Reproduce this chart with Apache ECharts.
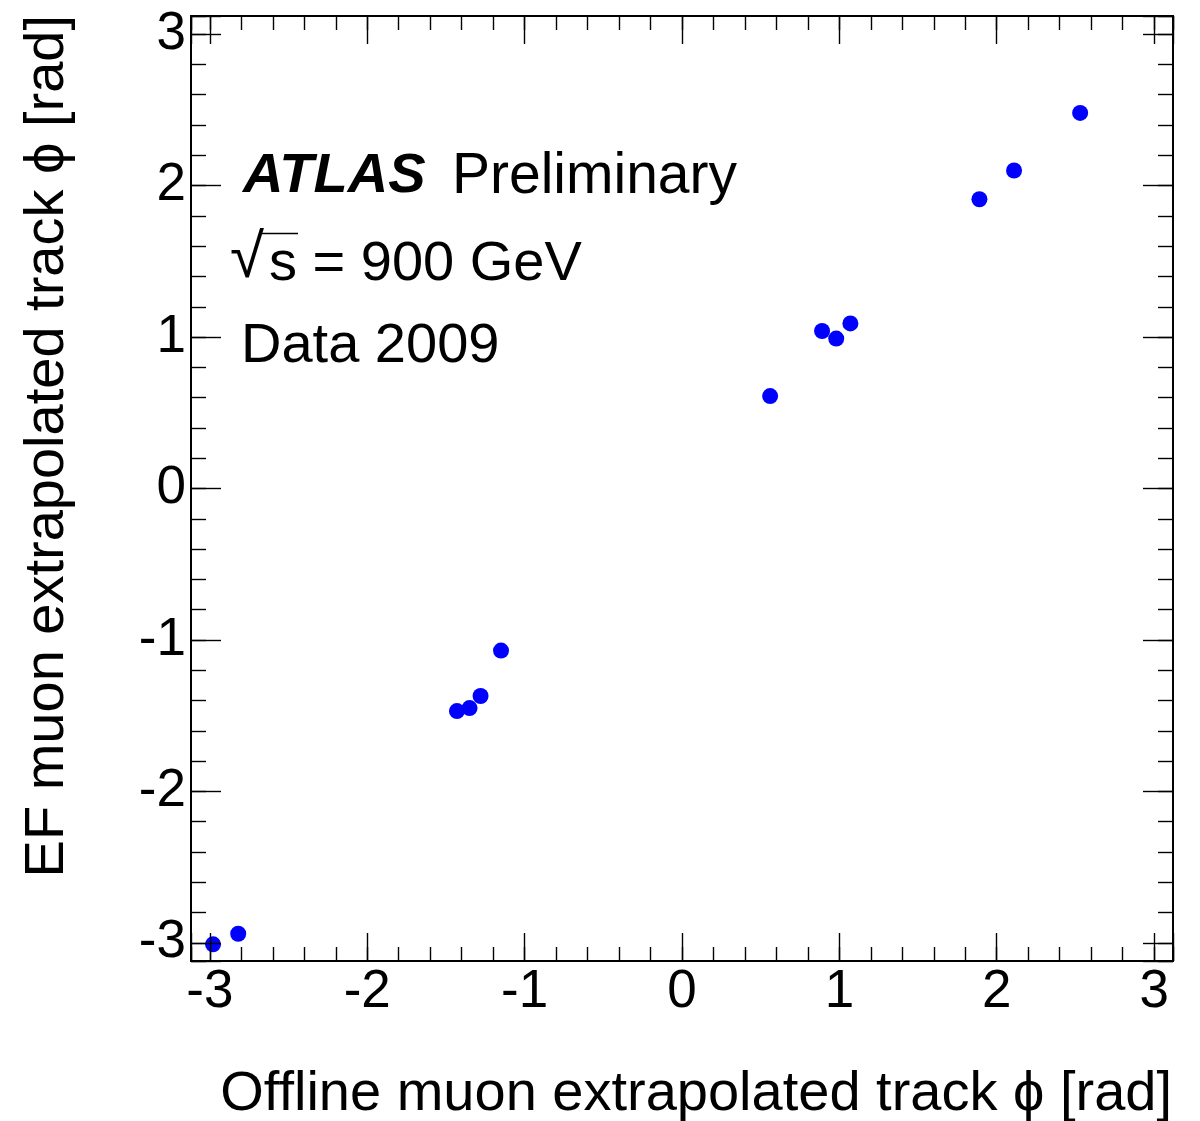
<!DOCTYPE html>
<html><head><meta charset="utf-8">
<script src="https://cdn.jsdelivr.net/npm/echarts@6/dist/echarts.min.js"></script>
<style>html,body{margin:0;padding:0;background:#fff}#c{width:1200px;height:1121px}</style>
</head><body><div id="c"></div>
<script>
// Data
const offlinePhi = [-2.98, -2.82, -1.43, -1.35, -1.28, -1.15, 0.56, 0.89, 0.98, 1.07, 1.89, 2.11, 2.53];
const efPhi      = [-3.01, -2.94, -1.47, -1.45, -1.37, -1.07, 0.61, 1.04, 0.99, 1.09, 1.91, 2.10, 2.48];
const axisMin = -3.12, axisMax = 3.12;
const majorStep = 1, minorStep = 0.2;
const xTitle = 'Offline muon extrapolated track \u03D5 [rad]';
const yTitle = 'EF muon extrapolated track \u03D5 [rad]';
const atlasLabel = 'ATLAS', prelimLabel = 'Preliminary';
const energyLabel = 's = 900 GeV', dataLabel = 'Data 2009';

const FONT = '"Liberation Sans", Arial, Helvetica, sans-serif';
const labelFmt = v => (Math.abs(v - Math.round(v)) < 1e-9 ? String(Math.round(v)) : '');

function mkAxis(dim, pos, major, showLabels) {
  const isX = dim === 'x';
  const len = major ? (isX ? 28 : 30) : (isX ? 14 : 15);
  return {
    type: 'value', position: pos, min: axisMin, max: axisMax,
    minInterval: major ? majorStep : minorStep,
    maxInterval: major ? majorStep : minorStep,
    splitNumber: major ? 6 : 31,
    z: 5,
    axisLine: { show: false, onZero: false },
    splitLine: { show: false },
    axisTick: { show: true, inside: true, length: len, lineStyle: { color: '#000', width: 1.4 } },
    axisLabel: showLabels ? {
      show: true, color: '#000', fontSize: 53, fontFamily: FONT,
      margin: isX ? 5 : 5, formatter: labelFmt, showMinLabel: true, showMaxLabel: true
    } : { show: false }
  };
}

const chart = echarts.init(document.getElementById('c'), null, { renderer: 'canvas' });
chart.setOption({
  animation: false,
  backgroundColor: '#fff',
  grid: { left: 191, top: 16, right: 27, bottom: 160, show: true, borderColor: '#000', borderWidth: 2, backgroundColor: 'transparent' },
  xAxis: [
    mkAxis('x', 'bottom', true, true),
    mkAxis('x', 'bottom', false, false),
    mkAxis('x', 'top', true, false),
    mkAxis('x', 'top', false, false)
  ],
  yAxis: [
    mkAxis('y', 'left', true, true),
    mkAxis('y', 'left', false, false),
    mkAxis('y', 'right', true, false),
    mkAxis('y', 'right', false, false)
  ],
  series: [{
    type: 'scatter', xAxisIndex: 0, yAxisIndex: 0, z: 2,
    symbol: 'circle', symbolSize: 16,
    itemStyle: { color: '#0000ff', opacity: 1 },
    emphasis: { disabled: true },
    data: offlinePhi.map((x, i) => [x, efPhi[i]])
  }],
  graphic: [
    { type: 'text', x: 1172, y: 1095, style: { text: xTitle, font: '56px ' + FONT, fill: '#000', align: 'right', verticalAlign: 'middle' } },
    { type: 'text', x: 48, y: 15, rotation: Math.PI / 2, style: { text: yTitle, font: '56px ' + FONT, fill: '#000', align: 'right', verticalAlign: 'middle' } },
    { type: 'text', x: 243, y: 177, style: { text: atlasLabel, font: 'italic bold 56px ' + FONT, fill: '#000', align: 'left', verticalAlign: 'middle' } },
    { type: 'text', x: 452, y: 177, style: { text: prelimLabel, font: '57px ' + FONT, fill: '#000', align: 'left', verticalAlign: 'middle' } },
    { type: 'text', x: 230, y: 260, style: { text: '\u221A', font: '62px ' + FONT, fill: '#000', align: 'left', verticalAlign: 'middle' } },
    { type: 'line', shape: { x1: 262, y1: 233.5, x2: 298, y2: 233.5 }, style: { stroke: '#000', lineWidth: 1.4 } },
    { type: 'text', x: 269, y: 265, style: { text: energyLabel, font: '56px ' + FONT, fill: '#000', align: 'left', verticalAlign: 'middle' } },
    { type: 'text', x: 241, y: 347, style: { text: dataLabel, font: '56px ' + FONT, fill: '#000', align: 'left', verticalAlign: 'middle' } }
  ]
});
</script>
</body></html>
